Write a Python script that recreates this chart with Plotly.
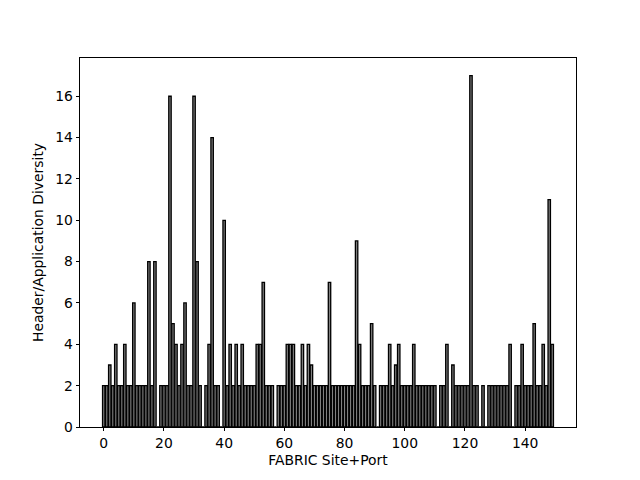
import plotly.graph_objects as go

site_index = list(range(150))
diversity = [
    2, 2, 3, 2, 4, 2, 2, 4, 2, 2,
    6, 2, 2, 2, 2, 8, 2, 8, 0, 2,
    2, 2, 16, 5, 4, 2, 4, 6, 2, 2,
    16, 8, 2, 0, 2, 4, 14, 2, 2, 0,
    10, 2, 4, 2, 4, 2, 4, 2, 2, 2,
    2, 4, 4, 7, 2, 2, 2, 0, 2, 2,
    2, 4, 4, 4, 2, 2, 4, 2, 4, 3,
    2, 2, 2, 2, 2, 7, 2, 2, 2, 2,
    2, 2, 2, 2, 9, 4, 2, 2, 2, 5,
    2, 0, 2, 2, 2, 4, 2, 3, 4, 2,
    2, 2, 2, 4, 2, 2, 2, 2, 2, 2,
    2, 0, 2, 2, 4, 0, 3, 2, 2, 2,
    2, 2, 17, 2, 2, 0, 2, 0, 2, 2,
    2, 2, 2, 2, 2, 4, 0, 2, 2, 4,
    2, 2, 2, 5, 2, 2, 4, 2, 11, 4,
]
x_ticks = [0, 20, 40, 60, 80, 100, 120, 140]
y_ticks = [0, 2, 4, 6, 8, 10, 12, 14, 16]

fig = go.Figure(
    go.Bar(
        x=site_index,
        y=diversity,
        width=0.8,
        marker=dict(color="#808080", line=dict(color="black", width=1.3)),
    )
)

n = len(site_index)
span = (n - 1) + 0.8
xpad = span * 0.05
FONT = dict(family="DejaVu Sans", size=13.9, color="black")
fig.update_layout(
    width=632,
    height=472,
    margin=dict(l=72, r=64, t=50, b=53, autoexpand=False),
    plot_bgcolor="white",
    paper_bgcolor="white",
    font=FONT,
    showlegend=False,
)
axis_common = dict(
    showline=True,
    linecolor="black",
    linewidth=0.8,
    mirror=True,
    ticks="outside",
    ticklen=3.5,
    tickwidth=0.8,
    tickcolor="black",
    showgrid=False,
    zeroline=False,
    tickfont=FONT,
)
fig.update_xaxes(
    range=[-0.4 - xpad, (n - 1) + 0.4 + xpad],
    tickvals=x_ticks,
    ticktext=[str(v) for v in x_ticks],
    title=dict(text="FABRIC Site+Port", standoff=5, font=FONT),
    **axis_common,
)
fig.update_yaxes(
    range=[0, max(diversity) * 1.05],
    tickvals=y_ticks,
    ticktext=[str(v) for v in y_ticks],
    title=dict(text="Header/Application Diversity", standoff=8, font=FONT),
    **axis_common,
)

fig.write_html("out.html")
